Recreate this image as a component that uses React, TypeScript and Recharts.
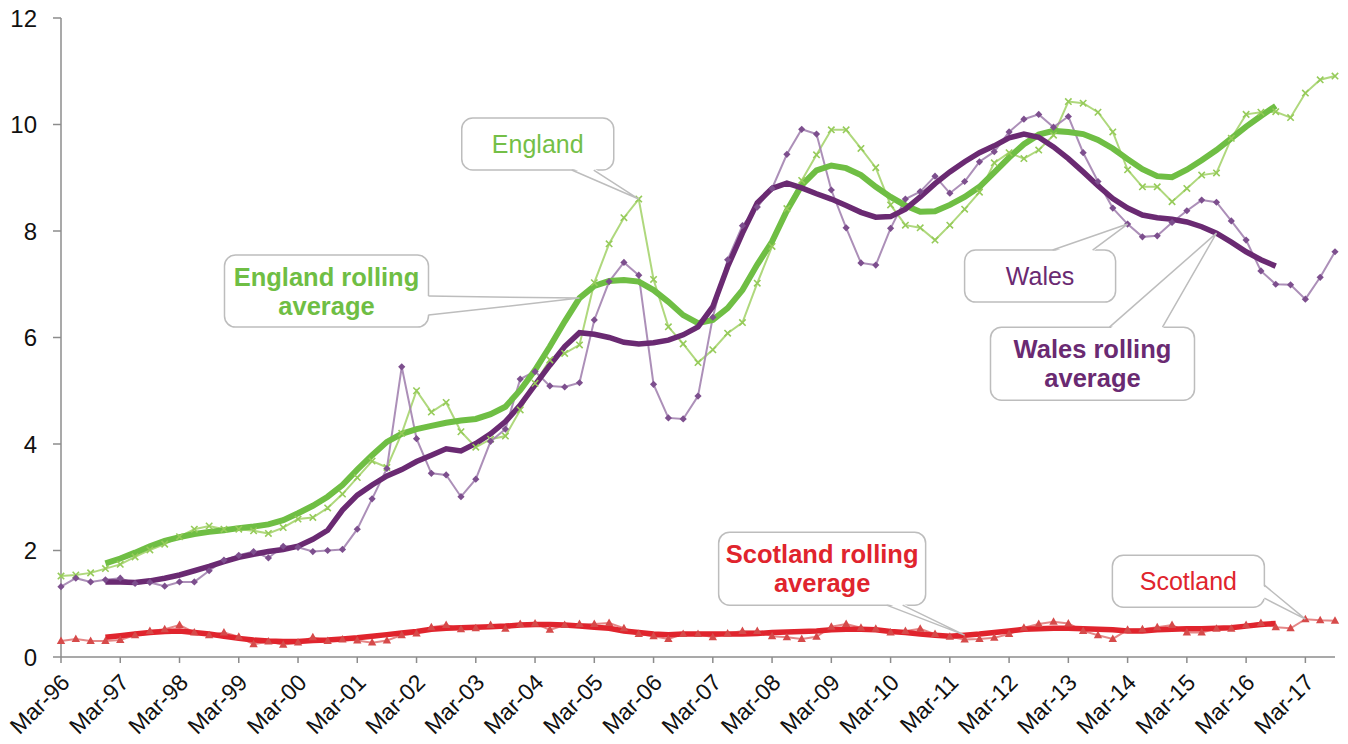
import { LineChart, Line, XAxis, YAxis, ReferenceDot } from 'recharts'

// quarterly, Mar-96 .. Sep-17
const QUARTER_MONTHS = ['Mar', 'Jun', 'Sep', 'Dec']
const quarters = Array.from({ length: 87 }, (_, i) => {
  const yr = (96 + Math.floor(i / 4)) % 100
  return `${QUARTER_MONTHS[i % 4]}-${String(yr).padStart(2, '0')}`
})

const Y_TICKS = [0, 2, 4, 6, 8, 10, 12]

const england = [
  1.52, 1.54, 1.58, 1.66, 1.74, 1.88, 2.01, 2.12, 2.26, 2.40, 2.46, 2.40, 2.40, 2.37, 2.32, 2.43,
  2.59, 2.62, 2.80, 3.06, 3.37, 3.68, 3.56, 4.20, 5.00, 4.60, 4.78, 4.23, 3.94, 4.09, 4.15, 4.64,
  5.14, 5.58, 5.70, 5.86, 7.03, 7.76, 8.25, 8.60, 7.09, 6.20, 5.88, 5.53, 5.77, 6.08, 6.28, 7.02,
  7.71, 8.42, 8.95, 9.43, 9.90, 9.90, 9.55, 9.19, 8.49, 8.11, 8.06, 7.83, 8.11, 8.41, 8.73, 9.28,
  9.47, 9.36, 9.52, 9.80, 10.43, 10.40, 10.23, 9.86, 9.15, 8.83, 8.83, 8.55, 8.80, 9.05, 9.09, 9.74,
  10.19, 10.23, 10.24, 10.13, 10.59, 10.84, 10.91,
]

const wales = [
  1.32, 1.48, 1.41, 1.45, 1.48, 1.38, 1.40, 1.33, 1.41, 1.41, 1.62, 1.82, 1.91, 1.98, 1.86, 2.08,
  2.06, 1.98, 2.00, 2.02, 2.40, 2.97, 3.54, 5.45, 4.10, 3.45, 3.42, 3.01, 3.34, 4.05, 4.28, 5.22,
  5.36, 5.09, 5.07, 5.15, 6.33, 7.05, 7.41, 7.17, 5.12, 4.49, 4.47, 4.90, 6.38, 7.46, 8.10, 8.45,
  8.80, 9.44, 9.91, 9.82, 8.77, 8.06, 7.40, 7.36, 8.05, 8.60, 8.74, 9.03, 8.71, 8.93, 9.30, 9.49,
  9.86, 10.10, 10.19, 9.95, 10.15, 9.47, 8.93, 8.43, 8.13, 7.89, 7.91, 8.16, 8.38, 8.58, 8.54, 8.19,
  7.83, 7.25, 7.00, 6.99, 6.72, 7.13, 7.61,
]

const scotland = [
  0.30, 0.34, 0.30, 0.30, 0.32, 0.41, 0.49, 0.52, 0.60, 0.46, 0.41, 0.46, 0.38, 0.24, 0.29, 0.23,
  0.27, 0.37, 0.30, 0.33, 0.31, 0.27, 0.31, 0.41, 0.44, 0.56, 0.60, 0.52, 0.54, 0.60, 0.53, 0.62,
  0.63, 0.51, 0.60, 0.62, 0.62, 0.64, 0.54, 0.43, 0.39, 0.34, 0.43, 0.43, 0.37, 0.44, 0.49, 0.49,
  0.39, 0.37, 0.34, 0.38, 0.57, 0.62, 0.55, 0.53, 0.46, 0.49, 0.53, 0.43, 0.38, 0.33, 0.34, 0.36,
  0.43, 0.55, 0.62, 0.66, 0.63, 0.49, 0.41, 0.34, 0.51, 0.52, 0.56, 0.60, 0.46, 0.46, 0.53, 0.53,
  0.60, 0.64, 0.56, 0.54, 0.71, 0.69, 0.68,
]

// rolling averages: Dec-96 .. Sep-16
const englandAvg = [
  null, null, null,
  1.76, 1.85, 1.96, 2.08, 2.18, 2.25, 2.31, 2.35, 2.38, 2.42, 2.45, 2.49, 2.57,
  2.70, 2.84, 3.01, 3.23, 3.52, 3.79, 4.04, 4.19, 4.28, 4.34, 4.40, 4.44, 4.47, 4.56, 4.70, 5.01,
  5.39, 5.83, 6.30, 6.74, 6.97, 7.06, 7.08, 7.05, 6.89, 6.67, 6.42, 6.27, 6.33, 6.55, 6.89, 7.37,
  7.80, 8.38, 8.86, 9.14, 9.23, 9.18, 9.05, 8.83, 8.64, 8.48, 8.36, 8.37, 8.49, 8.64, 8.83, 9.10,
  9.38, 9.63, 9.81, 9.88, 9.86, 9.82, 9.71, 9.55, 9.35, 9.16, 9.03, 9.01, 9.15, 9.33, 9.52, 9.74,
  9.96, 10.16, 10.35,
  null, null, null, null,
]

const walesAvg = [
  null, null, null,
  1.41, 1.41, 1.40, 1.43, 1.48, 1.54, 1.62, 1.70, 1.79, 1.87, 1.93, 1.98, 2.02,
  2.08, 2.21, 2.38, 2.76, 3.04, 3.23, 3.40, 3.52, 3.67, 3.79, 3.91, 3.87, 4.01, 4.19, 4.42, 4.73,
  5.11, 5.48, 5.83, 6.09, 6.06, 6.00, 5.91, 5.88, 5.90, 5.95, 6.05, 6.20, 6.58, 7.33, 7.96, 8.53,
  8.80, 8.90, 8.81, 8.70, 8.60, 8.48, 8.35, 8.26, 8.27, 8.41, 8.64, 8.89, 9.11, 9.30, 9.47, 9.60,
  9.75, 9.82, 9.76, 9.58, 9.36, 9.11, 8.85, 8.61, 8.43, 8.30, 8.25, 8.22, 8.17, 8.08, 7.96, 7.79,
  7.61, 7.46, 7.34,
  null, null, null, null,
]

const scotlandAvg = [
  null, null, null,
  0.37, 0.40, 0.43, 0.46, 0.48, 0.49, 0.46, 0.43, 0.39, 0.35, 0.32, 0.30, 0.29,
  0.29, 0.31, 0.32, 0.34, 0.36, 0.39, 0.42, 0.45, 0.48, 0.52, 0.54, 0.55, 0.56, 0.57, 0.58, 0.60,
  0.61, 0.61, 0.60, 0.58, 0.56, 0.54, 0.49, 0.46, 0.43, 0.42, 0.43, 0.43, 0.43, 0.43, 0.43, 0.44,
  0.46, 0.47, 0.48, 0.49, 0.51, 0.52, 0.52, 0.51, 0.48, 0.46, 0.43, 0.41, 0.39, 0.41, 0.43, 0.46,
  0.49, 0.52, 0.53, 0.54, 0.54, 0.53, 0.52, 0.51, 0.49, 0.49, 0.51, 0.52, 0.53, 0.53, 0.54, 0.55,
  0.58, 0.61, 0.63,
  null, null, null, null,
]

const data = quarters.map((q, i) => ({
  q,
  england: england[i],
  wales: wales[i],
  scotland: scotland[i],
  englandAvg: englandAvg[i],
  walesAvg: walesAvg[i],
  scotlandAvg: scotlandAvg[i],
}))

const FONT = '"Liberation Sans", Arial, sans-serif'
const AXIS = '#8c8c8c'
const GREEN = '#6fbe44'
const GREEN_LIGHT = '#a6d46f'
const PURPLE = '#6a2a72'
const PURPLE_LIGHT = '#a383b0'
const RED = '#e0242d'
const RED_LIGHT = '#e27a7a'

function CrossDot({ cx, cy }: any) {
  if (cx == null || cy == null) return null
  const s = 3.2
  return (
    <path
      d={`M${cx - s},${cy - s}L${cx + s},${cy + s}M${cx - s},${cy + s}L${cx + s},${cy - s}`}
      stroke="#96cb5a" strokeWidth={1.6} fill="none"
    />
  )
}

function DiamondDot({ cx, cy }: any) {
  if (cx == null || cy == null) return null
  const s = 3.6
  return <path d={`M${cx},${cy - s}L${cx + s},${cy}L${cx},${cy + s}L${cx - s},${cy}Z`} fill="#7d4f8e" />
}

function TriangleDot({ cx, cy }: any) {
  if (cx == null || cy == null) return null
  return <path d={`M${cx},${cy - 4.5}L${cx + 4.2},${cy + 3}L${cx - 4.2},${cy + 3}Z`} fill="#d64a4a" />
}

function XTick({ x, y, payload }: any) {
  const ax = x + 10
  const ay = y + 19
  return (
    <text
      x={ax} y={ay}
      transform={`rotate(-45, ${ax}, ${ay})`}
      textAnchor="end" fontSize={23} fontFamily={FONT} fill="#111"
    >
      {payload.value}
    </text>
  )
}

interface CalloutSpec {
  at: string
  value: number
  dx: number
  dy: number
  w: number
  h: number
  lines: string[]
  color: string
  bold?: boolean
  side: 'top' | 'bottom' | 'right'
  base: [number, number]
}

const callouts: CalloutSpec[] = [
  { at: 'Dec-05', value: england[39], dx: -177, dy: -81, w: 152, h: 52, lines: ['England'], color: '#74bf47', side: 'bottom', base: [110, 132] },
  { at: 'Dec-04', value: englandAvg[35] as number, dx: -355, dy: -43, w: 204, h: 72, lines: ['England rolling', 'average'], color: GREEN, bold: true, side: 'right', base: [41, 60] },
  { at: 'Mar-14', value: wales[72], dx: -163, dy: 26, w: 151, h: 52, lines: ['Wales'], color: PURPLE, side: 'top', base: [88, 128] },
  { at: 'Sep-15', value: walesAvg[78] as number, dx: -226, dy: 94, w: 204, h: 73, lines: ['Wales rolling', 'average'], color: PURPLE, bold: true, side: 'top', base: [119, 172] },
  { at: 'Jun-11', value: scotlandAvg[61] as number, dx: -246, dy: -103, w: 207, h: 73, lines: ['Scotland rolling', 'average'], color: RED, bold: true, side: 'bottom', base: [168, 184] },
  { at: 'Mar-17', value: scotland[84], dx: -193, dy: -64, w: 152, h: 52, lines: ['Scotland'], color: RED, side: 'right', base: [30, 43] },
]

function Callout({ cx, cy, spec }: { cx: number; cy: number; spec: CalloutSpec }) {
  const bx = cx + spec.dx
  const by = cy + spec.dy
  const { w, h } = spec
  const [b1, b2] = spec.base
  let p1: [number, number], p2: [number, number], i1: [number, number], i2: [number, number]
  if (spec.side === 'bottom') {
    p1 = [bx + b1, by + h]; p2 = [bx + b2, by + h]
    i1 = [bx + b1, by + h - 2]; i2 = [bx + b2, by + h - 2]
  } else if (spec.side === 'top') {
    p1 = [bx + b1, by]; p2 = [bx + b2, by]
    i1 = [bx + b1, by + 2]; i2 = [bx + b2, by + 2]
  } else {
    p1 = [bx + w, by + b1]; p2 = [bx + w, by + b2]
    i1 = [bx + w - 2, by + b1]; i2 = [bx + w - 2, by + b2]
  }
  const fs = spec.bold ? 25.5 : 25
  const lh = 29
  const midY = by + h / 2
  const n = spec.lines.length
  return (
    <g>
      <rect x={bx} y={by} width={w} height={h} rx={11} fill="#fff" stroke="#bdbdbd" strokeWidth={1.5} />
      <path d={`M${i1[0]},${i1[1]}L${cx},${cy}L${i2[0]},${i2[1]}Z`} fill="#fff" stroke="none" />
      <path d={`M${p1[0]},${p1[1]}L${cx},${cy}L${p2[0]},${p2[1]}`} fill="none" stroke="#bdbdbd" strokeWidth={1.5} />
      {spec.lines.map((t, k) => (
        <text
          key={k}
          x={bx + w / 2}
          y={midY + (k - (n - 1) / 2) * lh + fs * 0.35}
          textAnchor="middle" fontSize={fs} fontFamily={FONT}
          fontWeight={spec.bold ? 700 : 400} fill={spec.color}
        >
          {t}
        </text>
      ))}
    </g>
  )
}

export default function App() {
  return (
    <div style={{ position: 'absolute', left: 0, top: 0, width: 1348, height: 744, background: '#fff', fontFamily: FONT }}>
      <LineChart width={1348} height={744} data={data} margin={{ top: 18, right: 13, bottom: 0, left: 0 }}>
        <XAxis
          dataKey="q" interval={3} height={87}
          axisLine={{ stroke: AXIS, strokeWidth: 1.5 }}
          tickLine={{ stroke: AXIS, strokeWidth: 1.5 }} tickSize={6}
          tick={<XTick />}
        />
        <YAxis
          domain={[0, 12]} ticks={Y_TICKS} width={61} type="number"
          axisLine={{ stroke: AXIS, strokeWidth: 1.5 }}
          tickLine={{ stroke: AXIS, strokeWidth: 1.5 }} tickSize={8} tickMargin={16}
          tick={{ fontSize: 24, fill: '#111', fontFamily: FONT }}
        />
        <Line dataKey="england" stroke={GREEN_LIGHT} strokeWidth={2} strokeOpacity={0.9} dot={<CrossDot />} activeDot={false} isAnimationActive={false} />
        <Line dataKey="wales" stroke={PURPLE_LIGHT} strokeWidth={2} strokeOpacity={0.9} dot={<DiamondDot />} activeDot={false} isAnimationActive={false} />
        <Line dataKey="scotland" stroke={RED_LIGHT} strokeWidth={2} strokeOpacity={0.9} dot={<TriangleDot />} activeDot={false} isAnimationActive={false} />
        <Line dataKey="englandAvg" stroke={GREEN} strokeWidth={6} dot={false} activeDot={false} isAnimationActive={false} />
        <Line dataKey="walesAvg" stroke={PURPLE} strokeWidth={5.5} dot={false} activeDot={false} isAnimationActive={false} />
        <Line dataKey="scotlandAvg" stroke={RED} strokeWidth={5.5} dot={false} activeDot={false} isAnimationActive={false} />
        {callouts.map((c) => (
          <ReferenceDot
            key={c.at + c.lines[0]}
            x={c.at} y={c.value} r={0}
            shape={(p: any) => <Callout cx={p.cx} cy={p.cy} spec={c} />}
          />
        ))}
      </LineChart>
    </div>
  )
}
